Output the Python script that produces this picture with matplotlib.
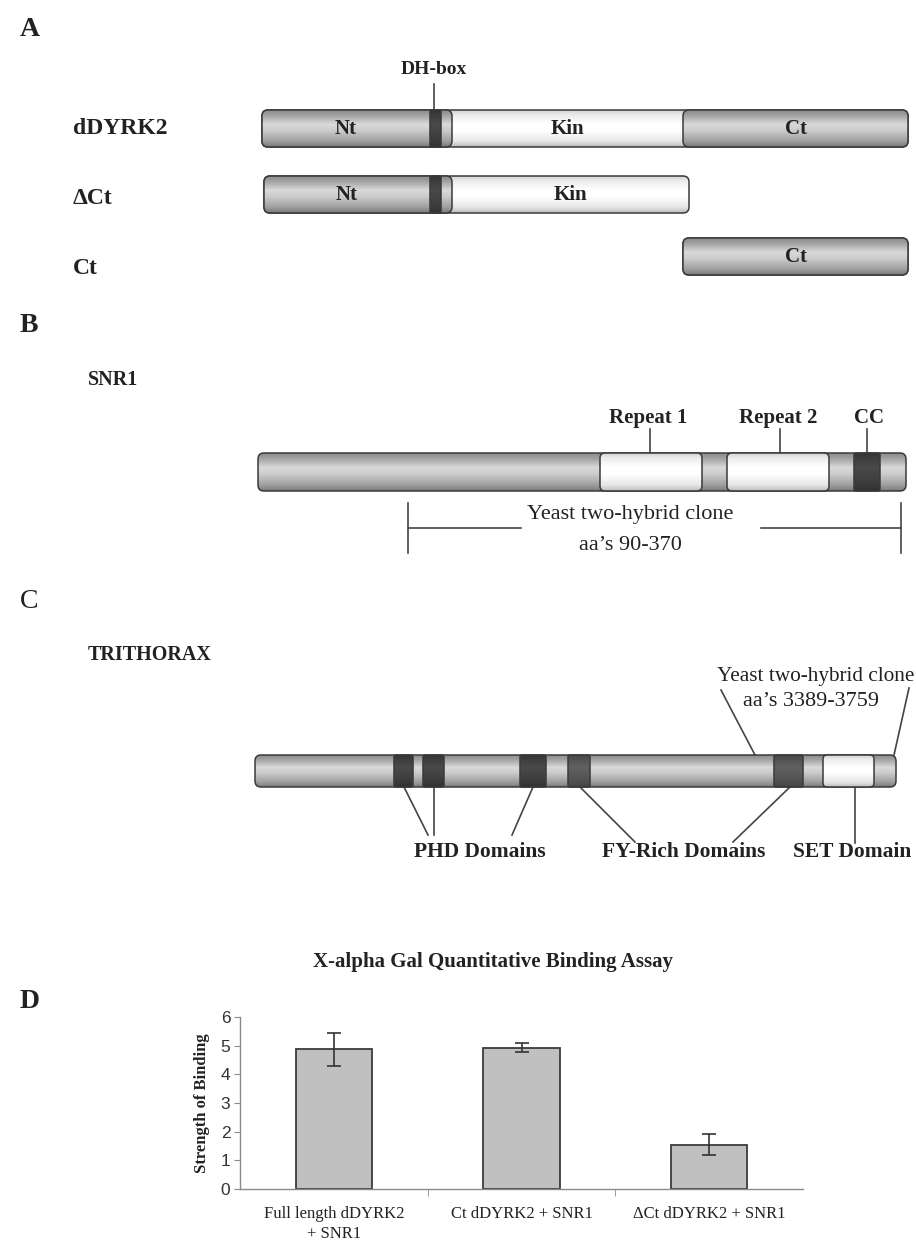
import numpy as np
import matplotlib.pyplot as plt
from matplotlib.patches import FancyBboxPatch

plt.rcParams['font.family'] = ['Liberation Serif', 'DejaVu Serif']

# ---- panel A: dDYRK2 constructs (schematic x positions along the drawing)
construct_names = ['dDYRK2', 'ΔCt', 'Ct']
construct_label_y = [129, 199, 269]
construct_bar_y = [128.5, 194.5, 256.5]
construct_span = [(262, 908), (264, 689), (683, 908)]
construct_gray = [[('Nt', 262, 452), ('Ct', 683, 908)],
                  [('Nt', 264, 452)],
                  [('Ct', 683, 908)]]
construct_kin = [(452, 683), (452, 689), None]
dh_box = (430, 441)

# ---- panel B: SNR1
snr1_span = (258, 906)
snr1_repeats = [('Repeat 1', 600, 702, 650), ('Repeat 2', 727, 829, 780)]
snr1_cc = ('CC', 854, 880, 867)
snr1_clone = (408, 901)

# ---- panel C: TRITHORAX
trx_span = (255, 896)
trx_phd = [(394, 413), (423, 444), (520, 546)]
trx_fy = [(568, 590), (774, 803)]
trx_set = (823, 874)
trx_callouts = [((404, 787), (428, 835)), ((434, 787), (434, 835)),
                ((533, 787), (512, 835)), ((580, 787), (635, 842)),
                ((790, 787), (733, 842)), ((855, 787), (855, 843))]
trx_callout_labels = [('PHD Domains', 480), ('FY-Rich Domains', 684), ('SET Domain', 852)]

# ---- panel D: binding assay
categories = ['Full length dDYRK2\n+ SNR1', 'Ct dDYRK2 + SNR1', 'ΔCt dDYRK2 + SNR1']
binding = [4.87, 4.93, 1.55]
binding_err = [0.57, 0.16, 0.36]

TXT = '#222222'
EDGE = '#3a3a3a'
prof_t = [0, 0.12, 0.38, 0.55, 0.85, 1]
profiles = {
    'gray': [0.55, 0.62, 0.85, 0.80, 0.62, 0.48],
    'white': [0.82, 0.92, 1.0, 1.0, 0.90, 0.74],
    'dark': [0.20, 0.24, 0.29, 0.27, 0.23, 0.19],
    'fy': [0.28, 0.32, 0.38, 0.36, 0.31, 0.27],
}


def cylinder(ax, x0, x1, yc, h, kind, radius=6, z=2):
    box = FancyBboxPatch((x0, yc - h / 2), x1 - x0, h,
                         boxstyle=f'round,pad=0,rounding_size={radius}',
                         fc='none', ec=EDGE, lw=1.1, zorder=z + 0.1)
    ax.add_patch(box)
    col = np.interp(np.linspace(0, 1, 64), prof_t, profiles[kind])[:, None]
    im = ax.imshow(col, extent=(x0, x1, yc + h / 2, yc - h / 2), cmap='gray',
                   vmin=0, vmax=1, aspect='auto', zorder=z, interpolation='bilinear')
    im.set_clip_path(box)


fig = plt.figure(figsize=(9.16, 12.46), dpi=100)
ax = fig.add_axes([0, 0, 1, 1])
ax.set_autoscale_on(False)
ax.set_xlim(0, 916)
ax.set_ylim(1246, 0)
ax.axis('off')

# panel letters
ax.text(20, 30, 'A', fontsize=20, fontweight='bold', color=TXT, va='center')
ax.text(20, 326, 'B', fontsize=20, fontweight='bold', color=TXT, va='center')
ax.text(20, 601, 'C', fontsize=20, color=TXT, va='center')
ax.text(20, 1001, 'D', fontsize=20, fontweight='bold', color=TXT, va='center')

# ---- A
for i, name in enumerate(construct_names):
    yc = construct_bar_y[i]
    x0, x1 = construct_span[i]
    ax.text(73, construct_label_y[i], name, fontsize=17, fontweight='bold',
            color=TXT, va='center')
    cylinder(ax, x0, x1, yc, 37, 'white')
    if construct_kin[i]:
        k0, k1 = construct_kin[i]
        ax.text((k0 + k1) / 2, yc, 'Kin', fontsize=15, fontweight='bold',
                color=TXT, ha='center', va='center', zorder=5)
    for lab, s0, s1 in construct_gray[i]:
        cylinder(ax, s0, s1, yc, 37, 'gray', z=3)
        xm = (s0 + dh_box[0]) / 2 if lab == 'Nt' else (s0 + s1) / 2
        ax.text(xm, yc, lab, fontsize=15, fontweight='bold', color=TXT,
                ha='center', va='center', zorder=5)
        if lab == 'Nt':
            cylinder(ax, dh_box[0], dh_box[1], yc, 37, 'dark', radius=1, z=4)

ax.plot([434, 434], [84, 110], color='#444444', lw=1.2)
ax.text(434, 70, 'DH-box', fontsize=14, fontweight='bold', color=TXT,
        ha='center', va='center')

# ---- B
ax.text(88, 380, 'SNR1', fontsize=14.5, fontweight='bold', color=TXT, va='center')
cylinder(ax, snr1_span[0], snr1_span[1], 472, 38, 'gray')
for lab, s0, s1, xl in snr1_repeats:
    cylinder(ax, s0, s1, 472, 38, 'white', radius=5, z=3)
    ax.plot([xl, xl], [429, 453], color='#444444', lw=1.2)
    ax.text(xl - 2, 418, lab, fontsize=15, fontweight='bold', color=TXT,
            ha='center', va='center')
lab, s0, s1, xl = snr1_cc
cylinder(ax, s0, s1, 472, 38, 'dark', radius=2, z=3)
ax.plot([xl, xl], [429, 453], color='#444444', lw=1.2)
ax.text(xl + 2, 418, lab, fontsize=15, fontweight='bold', color=TXT,
        ha='center', va='center')

c0, c1 = snr1_clone
ax.plot([c0, c0], [503, 553], color='#444444', lw=1.2)
ax.plot([c1, c1], [503, 553], color='#444444', lw=1.2)
ax.plot([c0, 521], [528, 528], color='#444444', lw=1.2)
ax.plot([761, c1], [528, 528], color='#444444', lw=1.2)
ax.text(630, 514, 'Yeast two-hybrid clone', fontsize=16, color=TXT,
        ha='center', va='center')
ax.text(630, 545, 'aa\u2019s 90-370', fontsize=16, color=TXT,
        ha='center', va='center')

# ---- C
ax.text(88, 655, 'TRITHORAX', fontsize=14.5, fontweight='bold', color=TXT, va='center')
cylinder(ax, trx_span[0], trx_span[1], 771, 32, 'gray')
for s0, s1 in trx_phd:
    cylinder(ax, s0, s1, 771, 32, 'dark', radius=2, z=3)
for s0, s1 in trx_fy:
    cylinder(ax, s0, s1, 771, 32, 'fy', radius=2, z=3)
cylinder(ax, trx_set[0], trx_set[1], 771, 32, 'white', radius=4, z=3)
for (xa, ya), (xb, yb) in trx_callouts:
    ax.plot([xa, xb], [ya, yb], color='#444444', lw=1.2)
for lab, xl in trx_callout_labels:
    ax.text(xl, 852, lab, fontsize=15.5, fontweight='bold', color=TXT,
            ha='center', va='center')
ax.plot([721, 755], [690, 755], color='#444444', lw=1.2)
ax.plot([909, 894], [688, 755], color='#444444', lw=1.2)
ax.text(914, 677, 'Yeast two-hybrid clone', fontsize=15.3, color=TXT,
        ha='right', va='center')
ax.text(811, 702, 'aa\u2019s 3389-3759', fontsize=16, color=TXT,
        ha='center', va='center')

# ---- D
ax.text(493, 962, 'X-alpha Gal Quantitative Binding Assay', fontsize=15,
        fontweight='bold', color=TXT, ha='center', va='center')
ax.text(202, 1103, 'Strength of Binding', fontsize=12, fontweight='bold',
        color=TXT, ha='center', va='center', rotation=90)

bx = fig.add_axes([240 / 916, (1246 - 1189) / 1246, 563 / 916, 172 / 1246])
x = np.arange(len(categories))
bx.bar(x, binding, width=0.405, color='#c0c0c0', edgecolor='#3c3c3c', lw=1.3,
       yerr=binding_err,
       error_kw=dict(ecolor='#333333', elinewidth=1.2, capsize=5, capthick=1.2))
bx.set_xlim(-0.5, 2.5)
bx.set_ylim(0, 6)
bx.set_facecolor('none')
for s in ['top', 'right']:
    bx.spines[s].set_visible(False)
for s in ['left', 'bottom']:
    bx.spines[s].set_color('#8a8a8a')
    bx.spines[s].set_linewidth(1.0)
bx.set_yticks(range(7))
bx.set_yticklabels([str(v) for v in range(7)], fontfamily='Liberation Sans',
                   fontsize=12.5, color='#333333')
bx.tick_params(axis='y', length=4, color='#8a8a8a', pad=3)
bx.set_xticks(x)
bx.set_xticklabels(categories, fontsize=12, color=TXT, linespacing=1.35)
bx.set_xticks([0.5, 1.5], minor=True)
bx.tick_params(axis='x', which='major', length=0, pad=12)
bx.tick_params(axis='x', which='minor', length=5, color='#8a8a8a')

fig.savefig('out.png', dpi=100)
